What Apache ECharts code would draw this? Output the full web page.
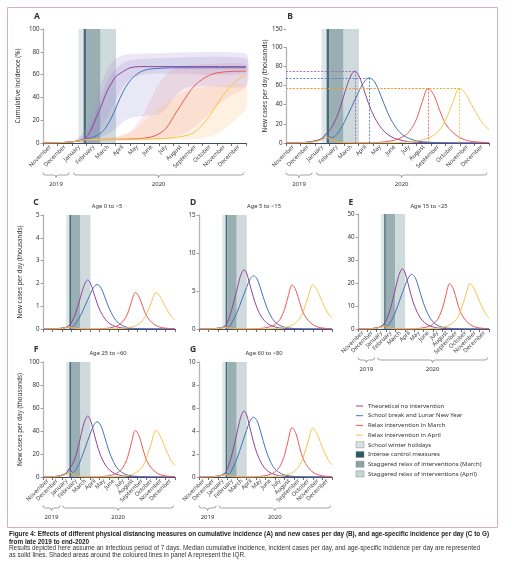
<!DOCTYPE html>
<html>
<head>
<meta charset="utf-8">
<script src="https://cdn.jsdelivr.net/npm/echarts@6.0.0/dist/echarts.min.js"></script>
<style>
  html, body { margin: 0; padding: 0; background: #fff; }
  #chart { width: 510px; height: 575px; }
  .cap { position: absolute; left: 9px; white-space: nowrap; transform-origin: 0 50%;
         font-family: 'Liberation Sans', Arial, sans-serif; color: #222; line-height: 8px; }
  .cap.b { font-weight: bold; font-size: 7px; }
  .cap.r { font-size: 6.6px; color: #333; }
</style>
</head>
<body>
<div id="chart"></div>
<div class="cap b" id="cap1" style="top:530px">Figure 4: Effects of different physical distancing measures on cumulative incidence (A) and new cases per day (B), and age-specific incidence per day (C to G)</div>
<div class="cap b" id="cap2" style="top:538px">from late 2019 to end-2020</div>
<div class="cap r" id="cap3" style="top:544px">Results depicted here assume an infectious period of 7 days. Median cumulative incidence, incident cases per day, and age-specific incidence per day are represented</div>
<div class="cap r" id="cap4" style="top:551px">as solid lines. Shaded areas around the coloured lines in panel A represent the IQR.</div>
<script>
// months on the x axis (Nov 2019 .. Dec 2020), x value = months since 1 Nov 2019
const MONTHS = ['November', 'December', 'January', 'February', 'March', 'April', 'May', 'June',
  'July', 'August', 'September', 'October', 'November', 'December'];
const SCENARIOS = ['Theoretical no intervention', 'School break and Lunar New Year',
  'Relax intervention in March', 'Relax intervention in April'];
const MEASURES = ['School winter holidays', 'Intense control measures',
  'Staggered relax of interventions (March)', 'Staggered relax of interventions (April)'];
const MEASURE_PERIODS = [[2.45, 2.8], [2.8, 2.97], [2.97, 3.97], [3.97, 5.03]];

// panel A: cumulative incidence (%)
const A_X_NOINT = [0, 1, 2, 2.5, 2.9, 3.25, 3.7, 4.0, 4.4, 4.75, 5.0, 5.32, 5.7, 6.0, 6.7, 8, 14];
const A_NOINT = [0, 0.2, 1, 2, 4, 10, 23, 32, 45, 53, 58, 61, 64, 66, 67, 67, 67];
const A_X_BREAK = [0, 1, 2, 2.5, 2.9, 3.3, 3.7, 4.1, 4.5, 4.9, 5.3, 5.7, 6.1, 6.6, 7.2, 8, 9, 14];
const A_BREAK = [0, 0.2, 1, 2, 3.5, 4.5, 6.5, 10, 17, 27, 39, 49, 56, 61.5, 64.5, 65.5, 66, 66];
const A_X_MARCH = [0, 1, 2, 2.5, 3, 4, 5, 6, 7, 7.5, 8, 8.5, 9, 9.5, 10, 10.5, 11, 11.5, 12, 13, 14];
const A_MARCH = [0, 0.2, 1, 2, 3, 3.1, 3.2, 3.5, 4.3, 5.5, 8, 13, 23, 33, 43, 51, 56, 59.5, 61.5, 62.8, 63];
const A_X_APRIL = [0, 1, 2, 2.5, 3, 5, 7, 8, 9, 10, 10.5, 11, 11.5, 12, 12.5, 13, 13.5, 14];
const A_APRIL = [0, 0.2, 1, 2, 3, 3.2, 3.5, 3.9, 4.6, 7, 10, 16, 24, 34, 43, 51, 56, 60];

// panel A IQR bands, [x, %]
const IQR_NOINT_HI = [[1.5, 0.3], [2, 1.5], [2.5, 5], [3, 14], [3.5, 32], [4, 52], [4.5, 66], [5, 74], [5.5, 77], [6, 78], [7, 78.5], [14, 78.5]];
const IQR_NOINT_LO = [[1.5, 0], [2.5, 1], [3, 2.5], [3.5, 6], [4, 13], [4.5, 24], [5, 37], [5.5, 49], [6, 56], [7, 60], [8, 61], [14, 61]];
const IQR_BREAK_HI = [[1.5, 0.3], [2, 1.2], [2.5, 4], [3, 10], [3.5, 22], [4, 40], [4.5, 56], [5, 65], [5.5, 70], [6, 72.5], [7, 74], [14, 74]];
const IQR_BREAK_LO = [[1.5, 0], [2.5, 1], [3, 2], [4, 5], [5, 12], [5.5, 18], [6, 22], [7, 24], [8, 25], [8.5, 30], [9, 39], [9.5, 46], [10, 49], [11, 50], [14, 50]];
const IQR_MARCH_HI = [[2, 1], [3, 3.5], [5, 5], [6, 10], [6.5, 17], [7, 27], [7.5, 40], [8, 52], [8.5, 60], [9, 65], [10, 68], [11, 69], [14, 69]];
const IQR_MARCH_LO = [[2, 0.5], [3, 2], [6, 2.5], [8, 3], [9, 5], [10, 10], [11, 20], [12, 32], [13, 42], [14, 49]];
const IQR_APRIL_HI = [[2, 1], [3, 3.5], [5, 5], [6, 9], [6.5, 13], [7, 19], [7.5, 25], [8, 31], [9, 40], [10, 46], [11, 49], [12, 50], [14, 50]];
const IQR_APRIL_LO = [[2, 0.5], [3, 2], [8, 2.5], [10, 3], [11, 4], [12, 8], [13, 17], [14, 30]];

// panels B-G: new cases per day (thousands)
const X_NOINT = [0, 1, 1.5, 2, 2.5, 2.8, 3.1, 3.5, 3.9, 4.25, 4.5, 4.75, 5, 5.3, 5.7, 6.1, 6.6, 7.1, 7.7, 8.5, 9.5, 11, 14];
const B_NOINT = [0, 0.3, 0.9, 2.2, 5, 10, 15, 27, 45, 62, 71, 75, 71, 59, 41, 27, 15, 8, 3.8, 1.4, 0.4, 0.1, 0];
const C_NOINT = [0, 0.005, 0.015, 0.035, 0.08, 0.16, 0.35, 0.75, 1.29, 1.78, 2.04, 2.15, 2.04, 1.69, 1.18, 0.77, 0.43, 0.23, 0.11, 0.04, 0.01, 0, 0];
const D_NOINT = [0, 0.013, 0.04, 0.1, 0.22, 0.44, 1.2, 2.8, 4.7, 6.45, 7.4, 7.8, 7.4, 6.1, 4.3, 2.8, 1.56, 0.83, 0.4, 0.15, 0.04, 0.01, 0];
const E_NOINT = [0, 0.07, 0.2, 0.5, 1.15, 2.3, 4.5, 9.4, 15.7, 21.7, 24.8, 26.2, 24.8, 20.6, 14.3, 9.4, 5.2, 2.8, 1.3, 0.5, 0.14, 0.03, 0];
const F_NOINT = [0, 0.2, 0.65, 1.6, 3.6, 7.3, 10.6, 19, 31.8, 43.8, 50.2, 53, 50.2, 41.7, 29, 19, 10.6, 5.7, 2.7, 1, 0.3, 0.07, 0];
const G_NOINT = [0, 0.011, 0.034, 0.08, 0.19, 0.38, 0.95, 2.07, 3.45, 4.75, 5.45, 5.75, 5.45, 4.5, 3.15, 2.07, 1.15, 0.61, 0.29, 0.11, 0.03, 0.01, 0];

const X_BREAK = [0, 1, 1.5, 2, 2.5, 2.8, 2.95, 3.15, 3.5, 4, 4.5, 5, 5.35, 5.73, 6.1, 6.5, 7, 7.5, 8, 8.7, 9.5, 11, 14];
const B_BREAK = [0, 0.3, 0.9, 2.2, 5, 10, 7.5, 5.5, 9, 21, 37, 53, 63, 68, 64, 51, 32, 18, 9, 3.5, 1.2, 0.2, 0];
const C_BREAK = [0, 0.005, 0.015, 0.035, 0.08, 0.16, 0.12, 0.09, 0.26, 0.6, 1.06, 1.52, 1.81, 1.95, 1.84, 1.46, 0.92, 0.52, 0.26, 0.1, 0.03, 0.01, 0];
const D_BREAK = [0, 0.013, 0.04, 0.1, 0.22, 0.44, 0.33, 0.3, 0.93, 2.16, 3.8, 5.46, 6.5, 7.0, 6.6, 5.25, 3.3, 1.85, 0.93, 0.36, 0.12, 0.02, 0];
const E_BREAK = [0, 0.07, 0.2, 0.5, 1.15, 2.3, 1.7, 1.4, 3.15, 7.35, 13, 18.6, 22, 23.8, 22.4, 17.9, 11.2, 6.3, 3.15, 1.2, 0.4, 0.07, 0];
const F_BREAK = [0, 0.22, 0.65, 1.6, 3.6, 7.3, 5.5, 4, 6.4, 14.8, 26.1, 37.4, 44.5, 48, 45.2, 36, 22.6, 12.7, 6.4, 2.5, 0.85, 0.14, 0];
const G_BREAK = [0, 0.011, 0.034, 0.08, 0.19, 0.38, 0.29, 0.25, 0.69, 1.6, 2.83, 4.05, 4.82, 5.2, 4.9, 3.9, 2.45, 1.38, 0.69, 0.27, 0.09, 0.015, 0];

const X_MARCH = [0, 1, 1.5, 2, 2.5, 2.8, 3.1, 3.5, 4, 5, 6, 6.8, 7.5, 8, 8.5, 9, 9.4, 9.8, 10.2, 10.6, 11, 11.5, 12, 12.6, 13.3, 14];
const B_MARCH = [0, 0.2, 0.6, 1.5, 3.8, 6, 4, 1.5, 0.4, 0.1, 0.3, 1.2, 3, 6, 12, 25, 43, 57, 50, 34, 20, 11, 5.5, 2.2, 0.9, 0.4];
const C_MARCH = [0, 0.003, 0.01, 0.024, 0.06, 0.1, 0.064, 0.024, 0.006, 0.002, 0.008, 0.034, 0.084, 0.17, 0.34, 0.7, 1.21, 1.6, 1.4, 0.96, 0.56, 0.31, 0.15, 0.06, 0.025, 0.011];
const D_MARCH = [0, 0.009, 0.026, 0.066, 0.17, 0.26, 0.18, 0.07, 0.018, 0.004, 0.03, 0.12, 0.31, 0.61, 1.22, 2.54, 4.38, 5.8, 5.09, 3.46, 2.04, 1.12, 0.56, 0.22, 0.09, 0.04];
const E_MARCH = [0, 0.05, 0.14, 0.35, 0.87, 1.38, 0.92, 0.35, 0.09, 0.02, 0.1, 0.41, 1.04, 2.07, 4.15, 8.64, 14.9, 19.7, 17.3, 11.75, 6.91, 3.8, 1.9, 0.76, 0.31, 0.14];
const F_MARCH = [0, 0.15, 0.44, 1.1, 2.8, 4.4, 2.9, 1.1, 0.3, 0.07, 0.21, 0.85, 2.13, 4.26, 8.5, 17.8, 30.5, 40.5, 35.5, 24.2, 14.2, 7.8, 3.9, 1.56, 0.64, 0.28];
const G_MARCH = [0, 0.008, 0.023, 0.057, 0.14, 0.23, 0.15, 0.06, 0.015, 0.004, 0.023, 0.09, 0.23, 0.45, 0.9, 1.89, 3.24, 4.3, 3.77, 2.56, 1.51, 0.83, 0.41, 0.17, 0.07, 0.03];

const X_APRIL = [0, 1, 1.5, 2, 2.5, 2.8, 3.1, 3.5, 4, 5, 7, 8, 9, 9.8, 10.5, 11, 11.5, 11.97, 12.4, 12.8, 13.2, 13.6, 14];
const B_APRIL = [0, 0.2, 0.6, 1.5, 3.8, 6, 4, 1.5, 0.4, 0.1, 0.2, 0.6, 2, 5, 12, 24, 42, 57, 51, 40, 29, 20, 14];
const C_APRIL = [0, 0.003, 0.01, 0.024, 0.06, 0.1, 0.064, 0.024, 0.006, 0.002, 0.006, 0.017, 0.056, 0.14, 0.34, 0.67, 1.18, 1.6, 1.43, 1.12, 0.81, 0.56, 0.39];
const D_APRIL = [0, 0.009, 0.026, 0.066, 0.17, 0.26, 0.18, 0.07, 0.018, 0.004, 0.02, 0.06, 0.2, 0.51, 1.22, 2.44, 4.28, 5.8, 5.19, 4.07, 2.95, 2.04, 1.43];
const E_APRIL = [0, 0.05, 0.14, 0.35, 0.87, 1.38, 0.92, 0.35, 0.09, 0.02, 0.07, 0.21, 0.69, 1.73, 4.15, 8.3, 14.5, 19.7, 17.6, 13.8, 10, 6.9, 4.8];
const F_APRIL = [0, 0.15, 0.44, 1.1, 2.8, 4.4, 2.9, 1.1, 0.3, 0.07, 0.14, 0.43, 1.42, 3.55, 8.5, 17, 29.8, 40.5, 36.2, 28.4, 20.6, 14.2, 9.9];
const G_APRIL = [0, 0.008, 0.023, 0.057, 0.14, 0.23, 0.15, 0.06, 0.015, 0.004, 0.015, 0.045, 0.15, 0.37, 0.9, 1.79, 3.13, 4.25, 3.8, 2.98, 2.16, 1.49, 1.04];

// ---- styling ----
const FONT = "'Noto Sans', 'Open Sans', sans-serif";
const LINE_COLORS = ['#93449a', '#4273bb', '#ec5a55', '#f4c54e'];
const BAND_COLORS = ['rgba(175,140,210,0.22)', 'rgba(125,130,205,0.18)', 'rgba(232,125,135,0.17)', 'rgba(252,195,130,0.24)'];
const MEASURE_COLORS = ['#dae3e6', '#2e5a65', '#8ba4aa', '#c8d5d8'];
const DASH_H = ['#a862b3', '#4f7dc4', '#f29a2e', '#f29a2e'];
const DASH_V = ['#a862b3', '#4f7dc4', '#ec6a6a', '#e6cc45'];

const zip = (xs, ys) => xs.map((x, i) => [x, ys[i]]);

const CURVES = {
  A: [zip(A_X_NOINT, A_NOINT), zip(A_X_BREAK, A_BREAK), zip(A_X_MARCH, A_MARCH), zip(A_X_APRIL, A_APRIL)],
  B: [zip(X_NOINT, B_NOINT), zip(X_BREAK, B_BREAK), zip(X_MARCH, B_MARCH), zip(X_APRIL, B_APRIL)],
  C: [zip(X_NOINT, C_NOINT), zip(X_BREAK, C_BREAK), zip(X_MARCH, C_MARCH), zip(X_APRIL, C_APRIL)],
  D: [zip(X_NOINT, D_NOINT), zip(X_BREAK, D_BREAK), zip(X_MARCH, D_MARCH), zip(X_APRIL, D_APRIL)],
  E: [zip(X_NOINT, E_NOINT), zip(X_BREAK, E_BREAK), zip(X_MARCH, E_MARCH), zip(X_APRIL, E_APRIL)],
  F: [zip(X_NOINT, F_NOINT), zip(X_BREAK, F_BREAK), zip(X_MARCH, F_MARCH), zip(X_APRIL, F_APRIL)],
  G: [zip(X_NOINT, G_NOINT), zip(X_BREAK, G_BREAK), zip(X_MARCH, G_MARCH), zip(X_APRIL, G_APRIL)]
};
const BANDS = [[IQR_NOINT_HI, IQR_NOINT_LO], [IQR_BREAK_HI, IQR_BREAK_LO], [IQR_MARCH_HI, IQR_MARCH_LO], [IQR_APRIL_HI, IQR_APRIL_LO]];

const PANELS = [
  { key: 'A', box: [43, 29, 203, 114], yMax: 100, yStep: 20, yName: 'Cumulative incidence (%)', nameGap: 22, labels: true, brace: 175, letter: [37, 17] },
  { key: 'B', box: [286, 29, 203, 114], yMax: 150, yStep: 20, yName: 'New cases per day (thousands)', nameGap: 18, labels: true, brace: 175, letter: [290, 17], yBreak: true },
  { key: 'C', box: [43, 215, 132, 114], yMax: 5, yStep: 1, yName: 'New cases per day (thousands)', nameGap: 20, letter: [36, 203], title: 'Age 0 to <5', titleAt: [107, 206] },
  { key: 'D', box: [199, 215, 133, 114], yMax: 15, yStep: 5, letter: [193, 203], title: 'Age 5 to <15', titleAt: [264, 206] },
  { key: 'E', box: [358, 214, 131, 115], yMax: 50, yStep: 10, labels: true, brace: 360, letter: [351, 203], title: 'Age 15 to <25', titleAt: [429, 206] },
  { key: 'F', box: [43, 362, 132, 115], yMax: 100, yStep: 20, yName: 'New cases per day (thousands)', nameGap: 20, labels: true, brace: 508, letter: [36, 350], title: 'Age 25 to <60', titleAt: [108, 353] },
  { key: 'G', box: [199, 362, 133, 115], yMax: 10, yStep: 2, labels: true, brace: 508, letter: [193, 350], title: 'Age 60 to <80', titleAt: [264, 353] }
];

const chart = echarts.init(document.getElementById('chart'));
const grid = [], xAxis = [], yAxis = [], series = [];
const valueAxisOf = {};

PANELS.forEach((p, k) => {
  grid.push({ left: p.box[0], top: p.box[1], width: p.box[2], height: p.box[3], containLabel: false });
  // category axis: month ticks and labels
  xAxis.push({
    type: 'category', gridIndex: k, position: 'bottom', data: MONTHS, boundaryGap: true,
    axisLine: { show: true, lineStyle: { color: '#3d4b5c', width: 1 } },
    axisTick: { show: true, length: 3, lineStyle: { color: '#3d4b5c', width: 0.8 } },
    axisLabel: { show: !!p.labels, interval: 0, rotate: 45, fontSize: 5.8, margin: 3, color: '#444', fontFamily: FONT },
    splitLine: { show: false }
  });
  // value axis used to place the curves
  const vi = xAxis.length;
  xAxis.push({ type: 'value', gridIndex: k, position: 'bottom', min: 0, max: 14, show: false });
  valueAxisOf[p.key] = vi;

  const y = {
    type: 'value', gridIndex: k, min: 0, max: p.yMax, interval: p.yStep,
    axisLine: { show: true, lineStyle: { color: '#b5b5b5', width: 1.3 } },
    axisTick: { show: true, length: 2.5, lineStyle: { color: '#888', width: 0.8 } },
    axisLabel: { fontSize: 6.2, margin: 3.5, color: '#333', fontFamily: FONT },
    splitLine: { show: false },
    name: p.yName || '', nameLocation: 'middle', nameGap: p.nameGap || 20, nameRotate: 90,
    nameTextStyle: { fontSize: 6.4, color: '#333', fontFamily: FONT }
  };
  if (p.yBreak) {
    // 100-150 drawn compressed, as in the reference
    y.breaks = [{ start: 100, end: 150, gap: '16%' }];
    y.breakArea = { show: true, itemStyle: { color: 'rgba(0,0,0,0)', borderColor: 'rgba(0,0,0,0)', opacity: 0 }, zigzagAmplitude: 0 };
  }
  yAxis.push(y);

  // shaded periods of the control measures
  MEASURES.forEach((m, i) => {
    series.push({
      type: 'line', name: m, xAxisIndex: vi, yAxisIndex: k, data: [], z: 2, silent: true,
      markArea: {
        silent: true, itemStyle: { color: MEASURE_COLORS[i], opacity: 0.88 },
        data: [[{ xAxis: MEASURE_PERIODS[i][0] }, { xAxis: MEASURE_PERIODS[i][1] }]]
      }
    });
  });

  // IQR bands (panel A)
  if (p.key === 'A') {
    BANDS.forEach(([hi, lo], i) => {
      series.push({
        type: 'custom', name: SCENARIOS[i] + ' IQR', xAxisIndex: vi, yAxisIndex: k, z: 1, silent: true,
        data: [[0, 0]],
        renderItem: (params, api) => ({
          type: 'polygon',
          shape: { points: hi.concat(lo.slice().reverse()).map(pt => api.coord(pt)), smooth: 0.2 },
          style: { fill: BAND_COLORS[i] }
        })
      });
    });
  }

  // median curves
  CURVES[p.key].forEach((pts, i) => {
    const s = {
      type: 'line', name: SCENARIOS[i], xAxisIndex: vi, yAxisIndex: k, data: pts, z: 3,
      smooth: 0.35, symbol: 'none', silent: true,
      lineStyle: { color: LINE_COLORS[i], width: 1 }, itemStyle: { color: LINE_COLORS[i] }
    };
    if (p.key === 'B') {
      const pk = pts.reduce((m, q) => (q[1] > m[1] ? q : m));
      s.markLine = {
        silent: true, symbol: 'none', animation: false,
        label: { show: false },
        data: [
          [{ coord: [0, pk[1]], lineStyle: { color: DASH_H[i], type: [2, 1.5], width: 0.9 } }, { coord: pk }],
          [{ coord: pk, lineStyle: { color: DASH_V[i], type: [2, 1.5], width: 0.9 } }, { coord: [pk[0], 0] }]
        ]
      };
    }
    series.push(s);
  });
});

chart.setOption({ animation: false, backgroundColor: '#fff', grid, xAxis, yAxis, series });

// ---- decorations: border, panel letters, titles, year braces, legend ----
const graphic = [];
graphic.push({ type: 'rect', shape: { x: 7.5, y: 7.5, width: 490, height: 520 }, style: { fill: null, stroke: '#e6aab4', lineWidth: 1 }, z: 0 });

const BRACE_STYLE = { fill: null, stroke: '#666', lineWidth: 0.6 };
function brace(x1, x2, y, h) {
  const m = (x1 + x2) / 2;
  const curve = (ax, ay, bx, by, cx, cy) => ({ type: 'bezierCurve', z: 10, silent: true,
    shape: { x1: ax, y1: ay, x2: bx, y2: by, cpx1: cx, cpy1: cy }, style: BRACE_STYLE });
  const seg = (ax, bx) => ({ type: 'line', z: 10, silent: true, shape: { x1: ax, y1: y, x2: bx, y2: y }, style: BRACE_STYLE });
  return [
    curve(x1, y - h, x1 + h, y, x1, y), seg(x1 + h, m - h), curve(m - h, y, m, y + h, m, y),
    curve(m, y + h, m + h, y, m, y), seg(m + h, x2 - h), curve(x2 - h, y, x2, y - h, x2, y)
  ];
}

PANELS.forEach(p => {
  graphic.push({ type: 'text', x: p.letter[0], y: p.letter[1], z: 10,
    style: { text: p.key, fontSize: 8.5, fontWeight: 'bold', fill: '#333', fontFamily: FONT, textAlign: 'center', textVerticalAlign: 'middle' } });
  if (p.title) {
    graphic.push({ type: 'text', x: p.titleAt[0], y: p.titleAt[1], z: 10,
      style: { text: p.title, fontSize: 5.8, fill: '#333', fontFamily: FONT, textAlign: 'center', textVerticalAlign: 'middle' } });
  }
  if (p.brace) {
    const vi = valueAxisOf[p.key];
    const px = v => chart.convertToPixel({ xAxisIndex: vi }, v);
    [[0, 1.8, '2019'], [2.1, 13.85, '2020']].forEach(([a, b, yr]) => {
      const x1 = px(a), x2 = px(b);
      graphic.push(...brace(x1, x2, p.brace, 2.5));
      graphic.push({ type: 'text', x: (x1 + x2) / 2, y: p.brace + 9, z: 10,
        style: { text: yr, fontSize: 6, fill: '#333', fontFamily: FONT, textAlign: 'center', textVerticalAlign: 'middle' } });
    });
  }
});

// legend
const LEG_X = 356, LEG_Y = 406, LEG_STEP = 9.7;
SCENARIOS.forEach((name, i) => {
  const y = LEG_Y + i * LEG_STEP;
  graphic.push({ type: 'line', z: 10, shape: { x1: LEG_X, y1: y, x2: LEG_X + 7, y2: y }, style: { stroke: LINE_COLORS[i], lineWidth: 1 } });
  graphic.push({ type: 'text', x: LEG_X + 12, y, z: 10,
    style: { text: name, fontSize: 6, fill: '#333', fontFamily: FONT, textVerticalAlign: 'middle' } });
});
MEASURES.forEach((name, i) => {
  const y = LEG_Y + (i + 4) * LEG_STEP;
  graphic.push({ type: 'rect', z: 10, shape: { x: LEG_X, y: y - 3, width: 8, height: 6 },
    style: { fill: MEASURE_COLORS[i], stroke: '#7a8a8f', lineWidth: 0.5 } });
  graphic.push({ type: 'text', x: LEG_X + 12, y, z: 10,
    style: { text: name, fontSize: 6, fill: '#333', fontFamily: FONT, textVerticalAlign: 'middle' } });
});

chart.setOption({ graphic });

// fit caption lines to the reference width
function fit(ids, target) {
  const w = document.getElementById(ids[0]).getBoundingClientRect().width;
  const s = target / w;
  ids.forEach(id => { document.getElementById(id).style.transform = `scaleX(${s})`; });
}
fit(['cap1', 'cap2'], 480);
fit(['cap3', 'cap4'], 471);
</script>
</body>
</html>
